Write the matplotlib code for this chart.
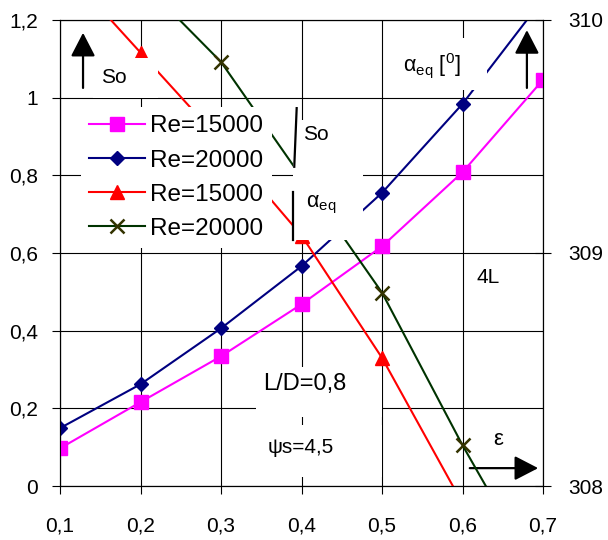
import matplotlib
matplotlib.use('Agg')
import matplotlib.pyplot as plt
from matplotlib.patches import Rectangle

plt.rcParams['font.family'] = ['Liberation Sans', 'DejaVu Sans']
plt.rcParams['mathtext.fontset'] = 'custom'
plt.rcParams['mathtext.rm'] = 'Liberation Sans'
plt.rcParams['mathtext.it'] = 'Liberation Sans'

# eccentricity
eps = [0.1, 0.2, 0.3, 0.4, 0.5, 0.6, 0.7]

# Sommerfeld number (left axis)
so_re15 = [0.097, 0.216, 0.334, 0.468, 0.617, 0.808, 1.046]
so_re20 = [0.149, 0.262, 0.406, 0.566, 0.755, 0.984, 1.254]

# attitude angle alpha_eq in degrees (right axis)
alpha_re15 = [310.24, 309.86, 309.48, 309.075, 308.55, 307.925, 307.3]
alpha_re20 = [310.5, 310.17, 309.82, 309.325, 308.83, 308.175, 307.57]

labels = ['Re=15000', 'Re=20000', 'Re=15000', 'Re=20000']

x_ticks = [0.1, 0.2, 0.3, 0.4, 0.5, 0.6, 0.7]
x_ticklabels = ['0,1', '0,2', '0,3', '0,4', '0,5', '0,6', '0,7']
so_ticks = [0, 0.2, 0.4, 0.6, 0.8, 1.0, 1.2]
so_ticklabels = ['0', '0,2', '0,4', '0,6', '0,8', '1', '1,2']
alpha_ticks = [308, 309, 310]
alpha_ticklabels = ['308', '309', '310']

fig = plt.figure(figsize=(6.08, 5.4), dpi=100)
ax = fig.add_axes([0.0987, 0.1, 0.7944, 0.863])
ax2 = ax.twinx()

l1, = ax.plot(eps, so_re15, '-s', color='#FF00FF', lw=1.5, ms=9.5, zorder=3)
l2, = ax.plot(eps, so_re20, '-D', color='#000080', lw=1.5, ms=7.5, zorder=3)
l3, = ax2.plot(eps, alpha_re15, '-^', color='#FF0000', lw=1.5, ms=10, zorder=3)
l4, = ax2.plot(eps, alpha_re20, '-x', color='#003300', lw=1.5, ms=10,
               mec='#333300', mew=1.8, zorder=3)

ax.set_xlim(0.1, 0.7)
ax.set_ylim(0, 1.2)
ax2.set_ylim(308, 310)

ax.set_xticks(x_ticks)
ax.set_xticklabels(x_ticklabels)
ax.set_yticks(so_ticks)
ax.set_yticklabels(so_ticklabels)
ax2.set_yticks(alpha_ticks)
ax2.set_yticklabels(alpha_ticklabels)

ax.set_axisbelow(True)
ax.grid(True, color='black', lw=0.8)
ax.tick_params(axis='x', direction='out', length=6, width=0.8, labelsize=15, pad=16)
ax.tick_params(axis='y', direction='out', length=6, width=0.8, labelsize=15, pad=10)
ax2.tick_params(axis='y', direction='inout', length=12, width=0.8, labelsize=15, pad=12)
for a in (ax, ax2):
    for s in a.spines.values():
        s.set_color('black')
        s.set_linewidth(0.8)

tr = ax.transData


def white_box(x0, x1, y0, y1, target=ax2, z=4):
    target.add_patch(Rectangle((x0, y0), x1 - x0, y1 - y0, transform=tr,
                               facecolor='white', edgecolor='none', zorder=z))


def label(x, y, s, size=15):
    ax2.text(x, y, s, transform=tr, fontsize=size, ha='center', va='center', zorder=6)


def arrow(x0, y0, x1, y1):
    ax2.annotate('', xy=(x1, y1), xytext=(x0, y0), xycoords=tr, textcoords=tr,
                 arrowprops=dict(arrowstyle='-|>,head_length=1.45,head_width=0.75',
                                 mutation_scale=10, lw=1.6, color='black',
                                 shrinkA=0, shrinkB=0), zorder=6)


# So caption with arrow, top left
white_box(0.141, 0.222, 1.0, 1.102)
label(0.167, 1.053, 'So')
arrow(0.1286, 1.025, 0.1286, 1.167)

# alpha_eq caption with arrow, top right
white_box(0.502, 0.630, 1.02, 1.154)
label(0.562, 1.082, r'$\mathrm{\alpha_{eq}}\ [^{0}]$', size=15.5)
arrow(0.680, 1.025, 0.680, 1.174)

# curve tags
white_box(0.389, 0.476, 0.798, 0.943)
label(0.418, 0.904, 'So')
ax2.plot([0.394, 0.391], [0.973, 0.822], color='black', lw=1.6, transform=tr, zorder=6)
white_box(0.389, 0.476, 0.634, 0.798)
label(0.425, 0.724, r'$\mathrm{\alpha_{eq}}$', size=15.5)
ax2.plot([0.389, 0.389], [0.757, 0.634], color='black', lw=1.6, transform=tr, zorder=6)

label(0.632, 0.536, '4L')

# bearing parameters
white_box(0.343, 0.5, 0.178, 0.306)
label(0.404, 0.263, 'L/D=0,8', size=17)
white_box(0.343, 0.5, 0.023, 0.157)
label(0.399, 0.100, 'ψs=4,5', size=15)

# eccentricity arrow
white_box(0.604, 0.696, 0.015, 0.088, target=ax, z=1)
ax.text(0.644, 0.121, 'ε', fontsize=16, ha='center', va='center', zorder=6)
ax.annotate('', xy=(0.694, 0.046), xytext=(0.609, 0.046),
            arrowprops=dict(arrowstyle='-|>,head_length=1.45,head_width=0.75',
                            mutation_scale=10, lw=1.6, color='black',
                            shrinkA=0, shrinkB=0), zorder=6)

leg = ax2.legend([l1, l2, l3, l4], labels, loc='upper left',
                 bbox_to_anchor=(0.126, 0.976), bbox_transform=tr,
                 fontsize=17.5, handlelength=2.3, handletextpad=0.2,
                 borderpad=0.35, labelspacing=0.5, borderaxespad=0,
                 frameon=True, fancybox=False, framealpha=1, numpoints=1)
leg.get_frame().set_edgecolor('none')
leg.get_frame().set_facecolor('white')
leg.set_zorder(7)

fig.savefig('out.png', dpi=100)
